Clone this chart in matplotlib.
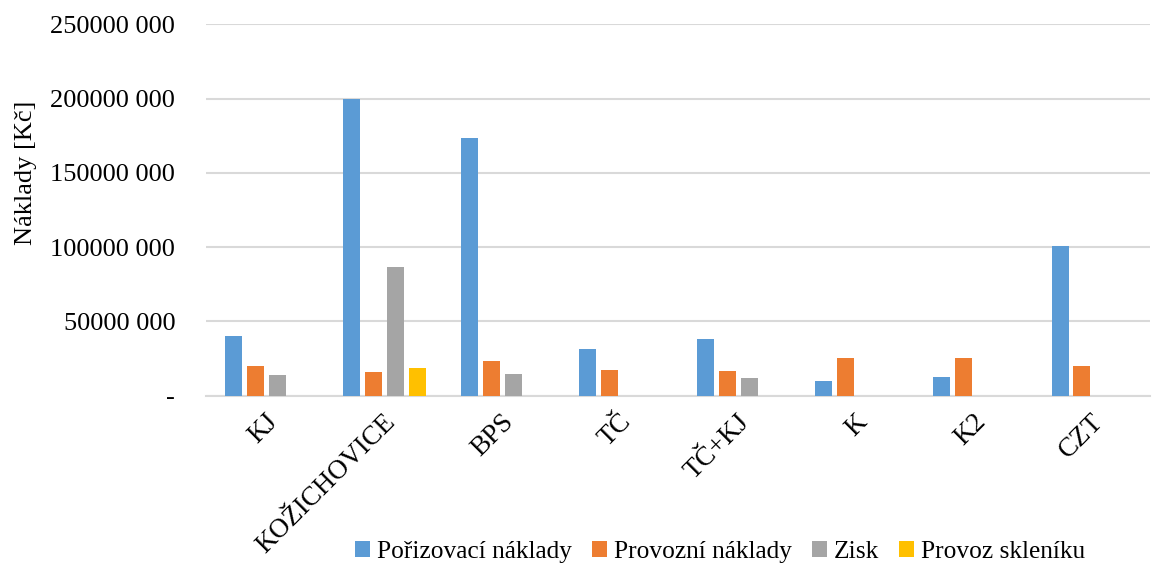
import numpy as np
import matplotlib
matplotlib.use("Agg")
import matplotlib.pyplot as plt
import matplotlib.transforms as mtrans
from matplotlib.ticker import FuncFormatter

plt.rcParams['font.family'] = ['Liberation Serif', 'DejaVu Serif']

# data (Kč)
categories = ['KJ', 'KOŽICHOVICE', 'BPS', 'TČ', 'TČ+KJ', 'K', 'K2', 'CZT']
porizovaci = [40.3e6, 200.0e6, 173.4e6, 31.6e6, 38.3e6, 10.1e6, 12.8e6, 100.8e6]
provozni = [20.2e6, 16.1e6, 23.5e6, 17.5e6, 16.8e6, 25.3e6, 25.3e6, 20.2e6]
zisk = [14.1e6, 86.7e6, 14.8e6, 0, 11.9e6, 0, 0, 0]
sklenik = [0, 18.8e6, 0, 0, 0, 0, 0, 0]

series = [
    ('Pořizovací náklady', porizovaci, '#5B9BD5'),
    ('Provozní náklady', provozni, '#ED7D31'),
    ('Zisk', zisk, '#A5A5A5'),
    ('Provoz skleníku', sklenik, '#FFC000'),
]

def fmt(v, pos):
    if v == 0:
        return '-'
    v = int(round(v))
    return f"{v // 1000} {v % 1000:03d}"

fig = plt.figure(figsize=(11.63, 5.63), dpi=100)
ax = fig.add_axes([0.177, 0.297, 0.812, 0.66])

x = np.arange(len(categories))
slot = 0.186
width = 0.144
for i, (name, vals, col) in enumerate(series):
    ax.bar(x + (i - 1.5) * slot + 0.015, vals, width, color=col, label=name, zorder=3)

ax.set_xlim(-0.5, len(categories) - 0.5)
ax.set_ylim(0, 250e6)
ax.set_yticks(np.arange(0, 250e6 + 1, 50e6))
ax.yaxis.set_major_formatter(FuncFormatter(fmt))
ax.grid(axis='y', color='#d9d9d9', linewidth=1.5, zorder=0)
for s in ['top', 'right', 'left']:
    ax.spines[s].set_visible(False)
ax.spines['bottom'].set_color('#d9d9d9')
ax.spines['bottom'].set_linewidth(1.5)
ax.tick_params(length=0, colors='black')
ax.tick_params(axis='y', pad=22, labelsize=19)
ax.set_xticks(x)
ax.set_xticklabels(categories, rotation=45, ha='right', rotation_mode='anchor', fontsize=19.5)
ax.tick_params(axis='x', pad=12)
offset = mtrans.ScaledTranslation(0, 3 / 100, fig.dpi_scale_trans)
for lab in ax.get_xticklabels():
    lab.set_transform(lab.get_transform() + offset)
ax.set_ylabel('Náklady [Kč]', fontsize=19)
ax.yaxis.set_label_coords(-0.179, 0.60)

leg = fig.legend(loc='center', bbox_to_anchor=(0.619, 0.02), ncol=4, frameon=False,
                 fontsize=18.3, handlelength=0.6, handleheight=0.6, handletextpad=0.25,
                 columnspacing=0.8)

fig.savefig('out.png', dpi=100)
